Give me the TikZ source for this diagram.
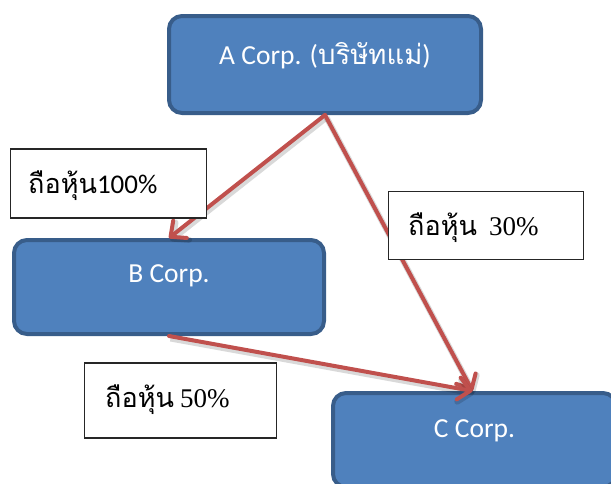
\documentclass[tikz,border=0pt]{standalone}
\usepackage{fontspec}
\setmainfont{Carlito}
\newfontfamily\thaifont[Script=Thai]{Loma}
\newfontfamily\serifdigits{Liberation Serif}
\usetikzlibrary{arrows.meta}

\definecolor{corpfill}{HTML}{4F81BD}
\definecolor{corpedge}{HTML}{385D8A}
\definecolor{linkred}{HTML}{C0504D}

\begin{document}
\begin{tikzpicture}[x=1pt,y=-1pt,
  corp/.style={draw=corpedge, fill=corpfill, line width=4pt, rounded corners=13pt, inner sep=0pt},
  corptext/.style={text=white, font=\fontsize{27.5}{30}\selectfont, anchor=base, inner sep=0pt},
  share/.style={draw=black!85, fill=white, line width=1.3pt, inner sep=0pt},
  sharetext/.style={font=\fontsize{27}{30}\selectfont, anchor=base west, inner sep=0pt},
  link/.style={draw=linkred, line width=4pt, line cap=round,
    -{Straight Barb[length=12pt,width=22pt,round]},
    preaction={draw=black, draw opacity=0.15, line width=6pt,
      transform canvas={shift={(1.5pt,-2.5pt)}}}}
]
\useasboundingbox (0,0) rectangle (611,483);
\clip (0,0) rectangle (611,483);

% company boxes
\node[corp, minimum width=312pt, minimum height=97pt] (A) at (325,64.5) {};
\node[corp, minimum width=310pt, minimum height=94pt] (B) at (169,287) {};
\node[corp, minimum width=283pt, minimum height=94pt] (C) at (474.5,440) {};

\node[corptext] (Atext) at (325,64) {A Corp. ({\thaifont บริษัทแม่})};
\node[corptext] (Btext) at (169,282) {B Corp.};
\node[corptext] (Ctext) at (474.5,437) {C Corp.};

% shareholding links
\draw[link] (A.south) -- (B.north);
\draw[link] (A.south) -- ([xshift=-2pt]C.north);
\draw[link] (B.south) -- ([xshift=-2pt]C.north);

% shareholding labels
\node[share, minimum width=196pt, minimum height=69pt] (L1) at (108.5,183.5) {};
\node[sharetext] (L1t) at (28,193) {{\thaifont ถือหุ้น}100\%};
\node[share, minimum width=195pt, minimum height=68pt] (L2) at (486,225.5) {};
\node[sharetext] (L2t) at (408,235) {{\thaifont ถือหุ้น}\ \ {\serifdigits 30\%}};
\node[share, minimum width=192pt, minimum height=75pt] (L3) at (180.5,400.5) {};
\node[sharetext] (L3t) at (105,407) {{\thaifont ถือหุ้น} {\serifdigits 50\%}};
\end{tikzpicture}
\end{document}
